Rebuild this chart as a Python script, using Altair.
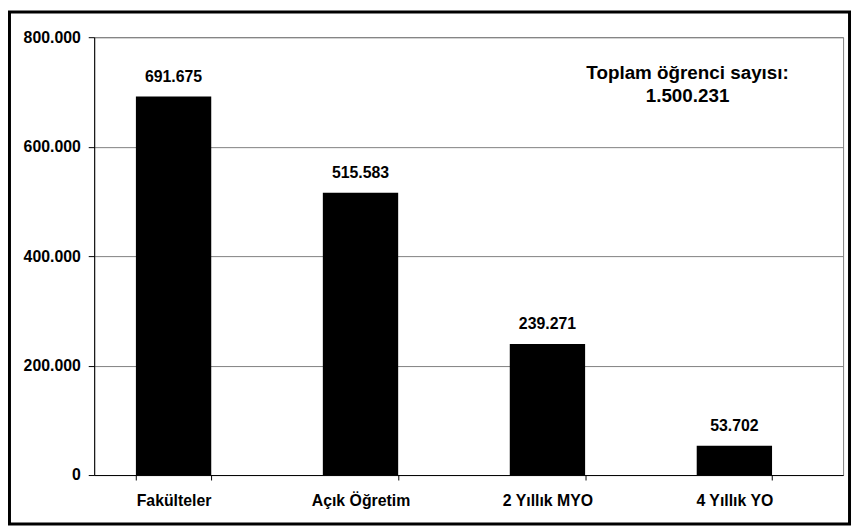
import altair as alt
import pandas as pd

categories = ["Fakülteler", "Açık Öğretim", "2 Yıllık MYO", "4 Yıllık YO"]
values = [691675, 515583, 239271, 53702]
y_ticks = [0, 200000, 400000, 600000, 800000]
note_lines = ["Toplam öğrenci sayısı:", "1.500.231"]
note_y = [735000, 692000]

labels = [f"{v:,}".replace(",", ".") for v in values]
df = pd.DataFrame({"cat": categories, "val": values, "lab": labels})
note_df = pd.DataFrame({"t": note_lines, "y": note_y})
one = pd.DataFrame({"a": [0]})

W, H = 756, 442
FONT = "Liberation Sans"
FS = 16
FS_NOTE = 19

x = alt.X("cat:N", sort=categories, title=None,
          scale=alt.Scale(paddingInner=0.597, paddingOuter=0.3016, align=0.37),
          axis=alt.Axis(labelAngle=0, labelFont=FONT, labelFontWeight="bold",
                        labelFontSize=FS, labelColor="black", labelPadding=13,
                        tickBand="extent", ticks=True, tickSize=5, tickColor="black",
                        domainColor="black", grid=False))
y = alt.Y("val:Q", title=None,
          scale=alt.Scale(domain=[0, 800000], nice=False),
          axis=alt.Axis(values=y_ticks, labelFont=FONT, labelFontWeight="bold",
                        labelFontSize=FS, labelColor="black", labelPadding=8,
                        tickSize=6, tickColor="black", domainColor="black",
                        gridColor="#808080", gridWidth=1,
                        labelExpr="replace(format(datum.value, ','), ',', '.')"))

bars = alt.Chart(df).mark_bar(color="black").encode(x=x, y=y)
text = alt.Chart(df).mark_text(font=FONT, fontWeight="bold", fontSize=FS,
                               baseline="bottom", dy=-12, color="black").encode(
    x=alt.X("cat:N", sort=categories), y="val:Q", text="lab:N")
note = alt.Chart(note_df).mark_text(font=FONT, fontWeight="bold", fontSize=FS_NOTE,
                                    align="center", baseline="middle", color="black").encode(
    x=alt.value(599), y="y:Q", text="t:N")
border = alt.Chart(one).mark_rect(fill=None, stroke="black", strokeWidth=3).encode(
    x=alt.value(-85.5), x2=alt.value(762.5), y=alt.value(-25.5), y2=alt.value(491.5))

chart = alt.layer(bars, text, note, border).properties(
    width=W, height=H,
    padding={"left": 87, "top": 27, "right": 9, "bottom": 52},
    autosize=alt.AutoSizeParams(type="none"),
    background="white",
).configure_view(stroke="#808080", strokeWidth=1)

chart.save("out.html", embed_options={"renderer": "svg", "actions": False})
